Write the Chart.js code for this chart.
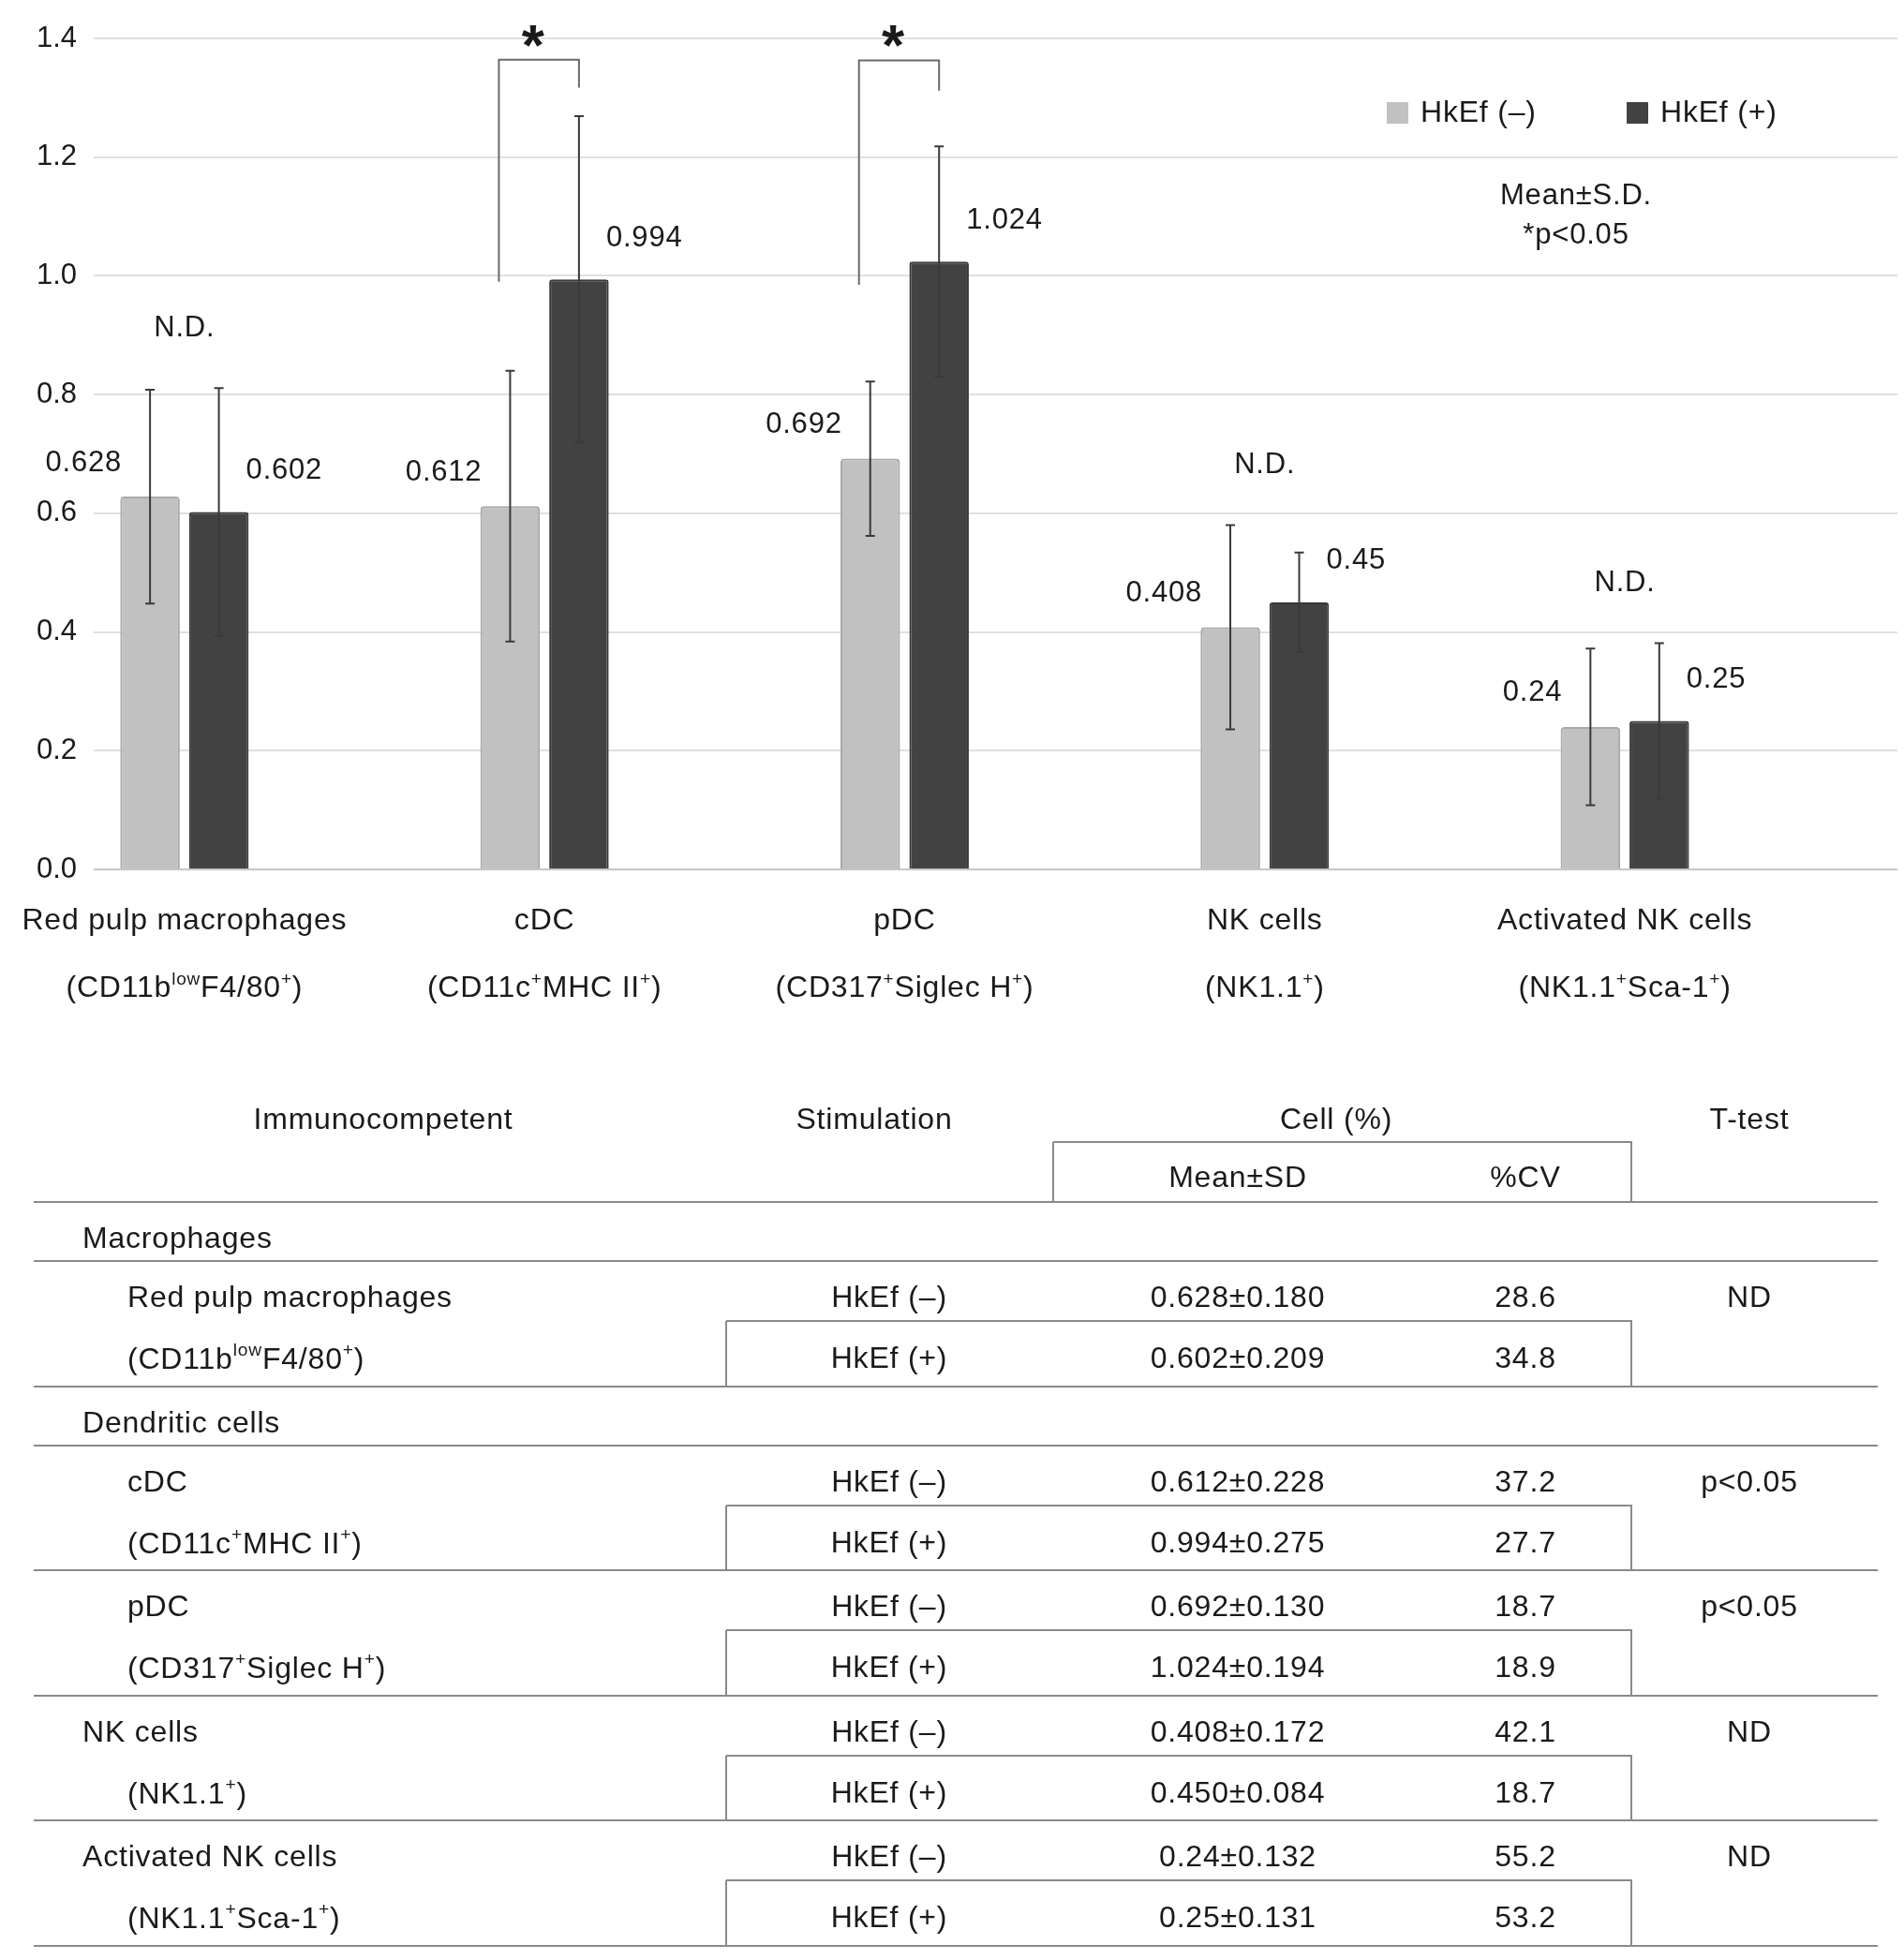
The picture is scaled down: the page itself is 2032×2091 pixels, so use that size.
<!DOCTYPE html>
<html>
<head>
<meta charset="utf-8">
<script src="https://cdn.jsdelivr.net/npm/chart.js@4.4.0/dist/chart.umd.min.js"></script>
<style>
  html, body { margin: 0; background: #fff; }
  body { width: 2032px; height: 2091px; position: relative; overflow: hidden;
         font-family: "Liberation Sans", Arial, sans-serif; color: #1a1a1a; }
  #chart { position: absolute; left: 0; top: 0; }
  #table { position: absolute; left: 0; top: 0; width: 2032px; height: 2091px; }
  .t { position: absolute; font-size: 32px; letter-spacing: 0.8px; white-space: nowrap;
       line-height: 1; transform: translateY(-50%); }
  .t.c { transform: translate(-50%, -50%); }
  .t sup { font-size: 0.6em; position: relative; top: -0.15em; vertical-align: top; line-height: 1; }
  .hl { position: absolute; height: 2px; background: #8a8a8a; }
  .vl { position: absolute; width: 2px; background: #8a8a8a; }
</style>
</head>
<body>
<canvas id="chart" width="2032" height="1110"></canvas>
<div id="table"></div>
<script>
// data
const categories = ["Red pulp macrophages", "cDC", "pDC", "NK cells", "Activated NK cells"];
const markers = [
  "(CD11b<sup>low</sup>F4/80<sup>+</sup>)",
  "(CD11c<sup>+</sup>MHC II<sup>+</sup>)",
  "(CD317<sup>+</sup>Siglec H<sup>+</sup>)",
  "(NK1.1<sup>+</sup>)",
  "(NK1.1<sup>+</sup>Sca-1<sup>+</sup>)"
];
const sections = ["Macrophages", "Dendritic cells", "Dendritic cells", null, null];
const seriesNames = ["HkEf (\u2013)", "HkEf (+)"];
const meanMinus = [0.628, 0.612, 0.692, 0.408, 0.24];
const meanPlus = [0.602, 0.994, 1.024, 0.45, 0.25];
const sdMinus = [0.180, 0.228, 0.130, 0.172, 0.132];
const sdPlus = [0.209, 0.275, 0.194, 0.084, 0.131];
const cvMinus = [28.6, 37.2, 18.7, 42.1, 55.2];
const cvPlus = [34.8, 27.7, 18.9, 18.7, 53.2];
const meanDigits = [3, 3, 3, 3, 2];
const tTest = ["ND", "p<0.05", "p<0.05", "ND", "ND"];
const yTicks = [0, 0.2, 0.4, 0.6, 0.8, 1.0, 1.2, 1.4];

// significance brackets (category index, heights in axis units)
const sigGroups = [1, 2];
const bracketTop = [1.364, 1.363];
const bracketLowEnd = [0.99, 0.985];
const bracketHighEnd = [1.317, 1.312];

const FAMILY = '"Liberation Sans", Arial, sans-serif';
const TEXT = "#1a1a1a";
const LIGHT = "#c1c1c1";
const DARK = "#424242";

function drawRich(ctx, html, cx, cy, size) {
  const parts = html.split(/(<sup>.*?<\/sup>)/).filter(Boolean).map(p =>
    p.startsWith("<sup>") ? { t: p.slice(5, -6), sup: true } : { t: p, sup: false });
  const fontOf = p => (p.sup ? Math.round(size * 0.6) : size) + "px " + FAMILY;
  let w = 0;
  parts.forEach(p => { ctx.font = fontOf(p); p.w = ctx.measureText(p.t).width; w += p.w; });
  let xx = cx - w / 2;
  ctx.textAlign = "left";
  ctx.textBaseline = "alphabetic";
  parts.forEach(p => {
    ctx.font = fontOf(p);
    ctx.fillText(p.t, xx, cy + size * 0.36 - (p.sup ? size * 0.4 : 0));
    xx += p.w;
  });
}

const overlay = {
  id: "overlay",
  afterDatasetsDraw(chart) {
    const { ctx } = chart;
    const x = chart.scales.x, y = chart.scales.y;
    const metas = [chart.getDatasetMeta(0), chart.getDatasetMeta(1)];
    ctx.save();
    ctx.letterSpacing = "0.8px";

    // error bars + value labels
    [[meanMinus, sdMinus], [meanPlus, sdPlus]].forEach(([means, sds], d) => {
      metas[d].data.forEach((bar, i) => {
        const top = y.getPixelForValue(means[i] + sds[i]);
        const bot = y.getPixelForValue(means[i] - sds[i]);
        ctx.strokeStyle = "#3a3a3a";
        ctx.lineWidth = 2;
        ctx.beginPath();
        ctx.moveTo(bar.x, top); ctx.lineTo(bar.x, bot);
        ctx.moveTo(bar.x - 5, top); ctx.lineTo(bar.x + 5, top);
        ctx.moveTo(bar.x - 5, bot); ctx.lineTo(bar.x + 5, bot);
        ctx.stroke();

        ctx.fillStyle = TEXT;
        ctx.font = "31px " + FAMILY;
        ctx.textBaseline = "middle";
        if (d === 0) {
          ctx.textAlign = "right";
          ctx.fillText(String(means[i]), bar.x - 30, bar.y - 36);
        } else {
          ctx.textAlign = "left";
          ctx.fillText(String(means[i]), bar.x + 29, bar.y - 44);
        }
      });
    });

    // N.D. marks
    categories.forEach((c, i) => {
      if (tTest[i] !== "ND") return;
      const hi = Math.max(meanMinus[i] + sdMinus[i], meanPlus[i] + sdPlus[i]);
      ctx.font = "31px " + FAMILY;
      ctx.textAlign = "center";
      ctx.textBaseline = "middle";
      ctx.fillText("N.D.", x.getPixelForValue(i), y.getPixelForValue(hi) - 64);
    });

    // brackets with stars
    sigGroups.forEach((g, k) => {
      const lx = metas[0].data[g].x - 12;
      const rx = metas[1].data[g].x;
      const ty = y.getPixelForValue(bracketTop[k]);
      ctx.strokeStyle = "#6a6a6a";
      ctx.lineWidth = 2;
      ctx.beginPath();
      ctx.moveTo(lx, y.getPixelForValue(bracketLowEnd[k]));
      ctx.lineTo(lx, ty);
      ctx.lineTo(rx, ty);
      ctx.lineTo(rx, y.getPixelForValue(bracketHighEnd[k]));
      ctx.stroke();
      ctx.font = "bold 62px " + FAMILY;
      ctx.textAlign = "center";
      ctx.textBaseline = "alphabetic";
      ctx.fillStyle = TEXT;
      ctx.fillText("*", (lx + rx) / 2 - 6, ty - 30 + 35);
    });

    // category labels (two lines)
    ctx.fillStyle = TEXT;
    categories.forEach((c, i) => {
      const cx = x.getPixelForValue(i);
      drawRich(ctx, c, cx, 980, 32);
      drawRich(ctx, markers[i], cx, 1052, 32);
    });

    // legend
    const legendX = [1480, 1736];
    [LIGHT, DARK].forEach((col, d) => {
      ctx.fillStyle = col;
      ctx.fillRect(legendX[d], 109, 23, 23);
      ctx.fillStyle = TEXT;
      ctx.font = "32px " + FAMILY;
      ctx.textAlign = "left";
      ctx.textBaseline = "middle";
      ctx.fillText(seriesNames[d], legendX[d] + 36, 121);
    });

    // note
    ctx.textAlign = "center";
    ctx.font = "31px " + FAMILY;
    ctx.fillText("Mean\u00b1S.D.", 1682, 209);
    ctx.fillText("*p<0.05", 1682, 251);
    ctx.restore();
  }
};

new Chart(document.getElementById("chart"), {
  type: "bar",
  data: {
    datasets: [
      {
        label: seriesNames[0],
        data: meanMinus.map((v, i) => ({ x: i, y: v })),
        backgroundColor: LIGHT,
        borderColor: "#a8a8a8",
        borderWidth: 2,
        borderRadius: { topLeft: 4, topRight: 4 },
        categoryPercentage: 0.3824,
        barPercentage: 0.864
      },
      {
        label: seriesNames[1],
        data: meanPlus.map((v, i) => ({ x: i, y: v })),
        backgroundColor: DARK,
        borderColor: "#383838",
        borderWidth: 2,
        borderRadius: { topLeft: 3, topRight: 3 },
        categoryPercentage: 0.3824,
        barPercentage: 0.864
      }
    ]
  },
  options: {
    responsive: false,
    animation: false,
    events: [],
    layout: { padding: { top: 41, right: 7, bottom: 182, left: 0 } },
    scales: {
      x: {
        type: "linear",
        display: false,
        min: -0.252,
        max: 4.757,
        offset: false,
        ticks: { stepSize: 1, includeBounds: false }
      },
      y: {
        min: yTicks[0],
        max: yTicks[yTicks.length - 1],
        afterFit: s => { s.width = 100; },
        afterBuildTicks: s => { s.ticks = yTicks.map(v => ({ value: v })); },
        border: { display: false },
        grid: {
          color: c => (c.tick && c.tick.value === 0 ? "#c6c6c6" : "#e0e0e0"),
          lineWidth: 2,
          drawTicks: false
        },
        ticks: {
          padding: 18,
          color: TEXT,
          font: { family: FAMILY, size: 31 },
          callback: v => Number(v).toFixed(1)
        }
      }
    },
    plugins: { legend: { display: false }, tooltip: { enabled: false } }
  },
  plugins: [overlay]
});

// table below the chart
const T = document.getElementById("table");
function esc(s) { return s.replace(/</g, "&lt;"); }
function txt(html, x, y, center) {
  const d = document.createElement("div");
  d.className = "t" + (center ? " c" : "");
  d.style.left = x + "px";
  d.style.top = y + "px";
  d.innerHTML = html;
  T.appendChild(d);
}
function hline(x1, x2, y) {
  const d = document.createElement("div");
  d.className = "hl";
  d.style.left = x1 + "px"; d.style.width = (x2 - x1) + "px"; d.style.top = (y - 1) + "px";
  T.appendChild(d);
}
function vline(x, y1, y2) {
  const d = document.createElement("div");
  d.className = "vl";
  d.style.left = (x - 1) + "px"; d.style.top = y1 + "px"; d.style.height = (y2 - y1) + "px";
  T.appendChild(d);
}

const TL = 36, TR = 2004;
const colStim = 949, colMean = 1321, colCV = 1628, colT = 1867;
const boxL = 1124, boxR = 1741, rowBoxL = 775;

txt("Immunocompetent", 409, 1194, true);
txt("Stimulation", 933, 1194, true);
txt("Cell (%)", 1426, 1194, true);
txt("T-test", colT, 1194, true);
hline(boxL, boxR + 1, 1219);
vline(boxL, 1219, 1283);
vline(boxR, 1219, 1283);
txt("Mean\u00b1SD", colMean, 1256, true);
txt("%CV", colCV, 1256, true);

let yy = 1283;
hline(TL, TR, yy);
let prev = null;
categories.forEach((name, i) => {
  const sec = sections[i];
  if (sec && sec !== prev) {
    txt(sec, 88, yy + 38);
    yy += 63;
    hline(TL, TR, yy);
  }
  prev = sec;
  txt(name, sec ? 136 : 88, yy + 38);
  txt(markers[i], 136, yy + 104);

  txt(seriesNames[0], colStim, yy + 38, true);
  txt(meanMinus[i].toFixed(meanDigits[i]) + "\u00b1" + sdMinus[i].toFixed(3), colMean, yy + 38, true);
  txt(cvMinus[i].toFixed(1), colCV, yy + 38, true);
  txt(esc(tTest[i]), colT, yy + 38, true);

  txt(seriesNames[1], colStim, yy + 103, true);
  txt(meanPlus[i].toFixed(meanDigits[i]) + "\u00b1" + sdPlus[i].toFixed(3), colMean, yy + 103, true);
  txt(cvPlus[i].toFixed(1), colCV, yy + 103, true);

  hline(rowBoxL, boxR + 1, yy + 64);
  vline(rowBoxL, yy + 64, yy + 133.5);
  vline(boxR, yy + 64, yy + 133.5);
  yy += 133.5;
  hline(TL, TR, yy);
});
</script>
</body>
</html>
